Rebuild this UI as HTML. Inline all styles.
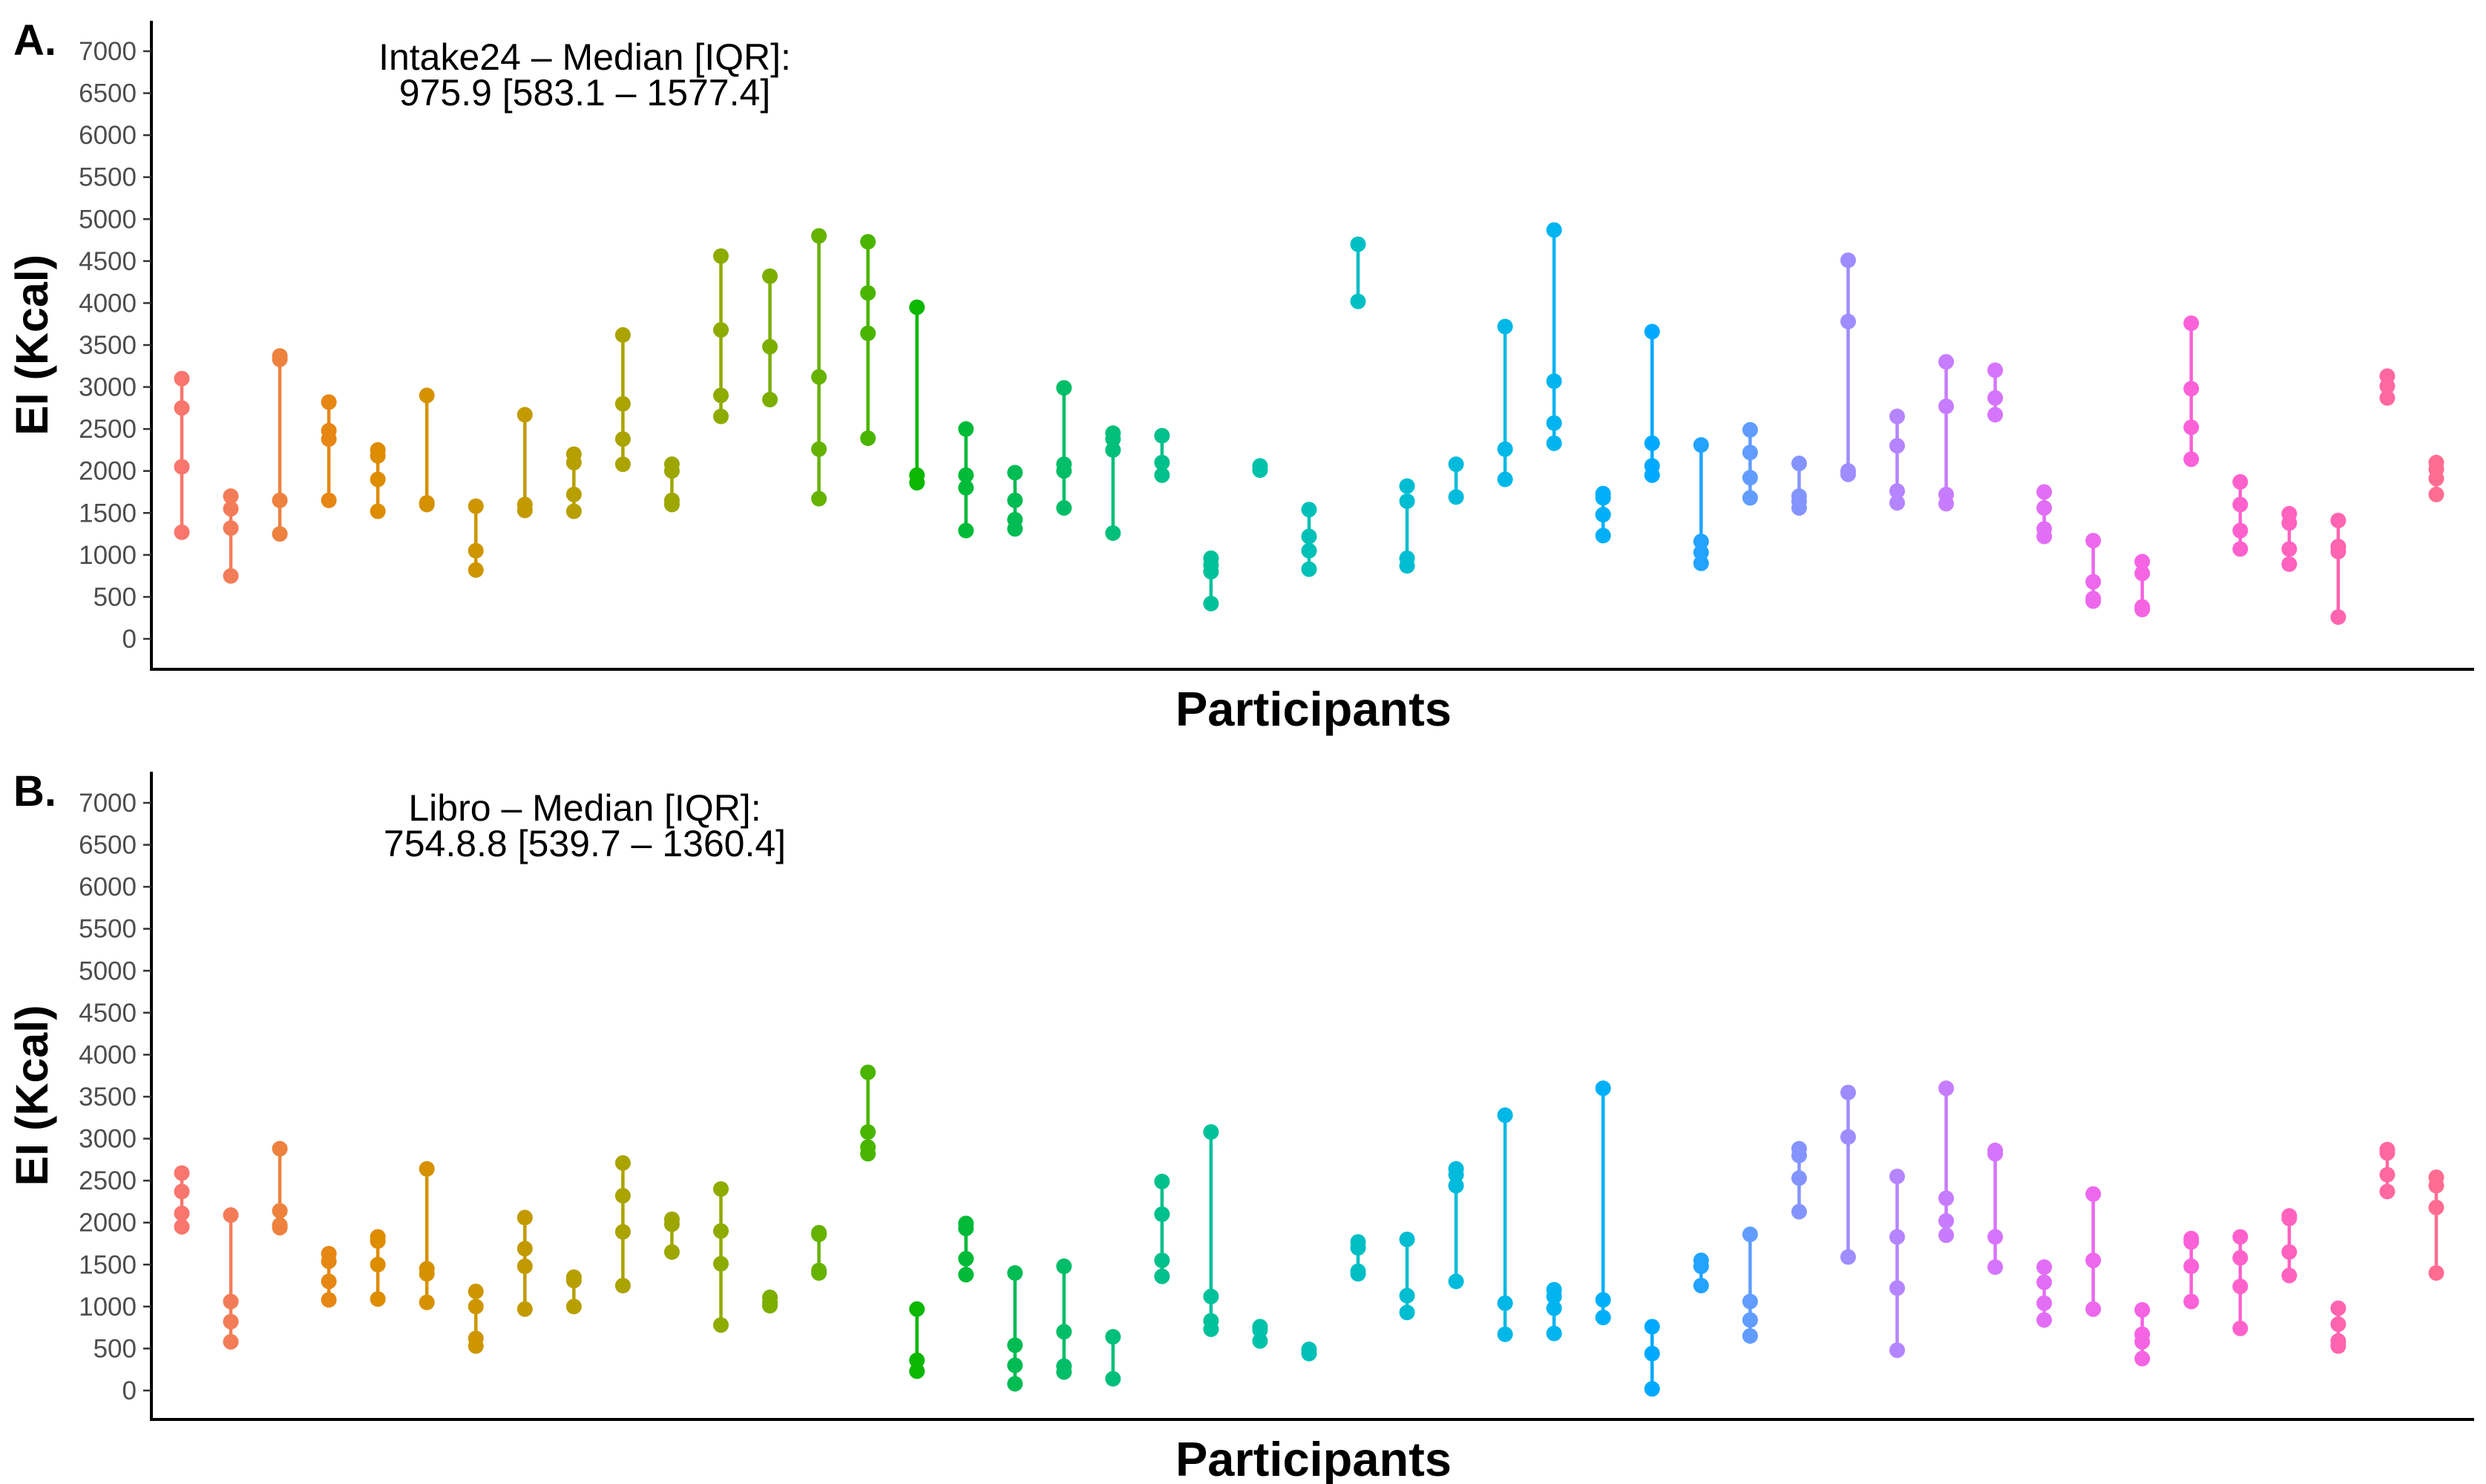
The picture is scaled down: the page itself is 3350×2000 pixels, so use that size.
<!DOCTYPE html>
<html><head><meta charset="utf-8">
<style>
html,body{margin:0;padding:0;background:#fff;}
svg{display:block;font-family:"Liberation Sans",Arial,sans-serif;}
</style></head>
<body>
<svg id="chart" width="3350" height="2000" viewBox="0 0 3350 2000" xmlns="http://www.w3.org/2000/svg">
<rect width="3350" height="2000" fill="#fff"/>
<g id="panelA"></g>
<g id="panelB"></g>
</svg>
<script>
const yTicks = [0,500,1000,1500,2000,2500,3000,3500,4000,4500,5000,5500,6000,6500,7000];
const participants = Array.from({length:47},(_,i)=>'P'+(i+1));
const intake24Values = [
[3100,2750,2050,1270],[1700,1550,1320,750],[3370,3330,1650,1250],[2820,2480,2380,1650],
[2250,2180,1900,1520],[2900,1620,1600],[1580,1050,820],[2670,1600,1530],
[2200,2100,1720,1520],[3620,2800,2380,2080],[2080,2000,1650,1600],[4560,3680,2900,2650],
[4320,3480,2850],[4800,3120,2260,1670],[4730,4120,3640,2390],[3950,1950,1860],
[2500,1950,1800,1290],[1980,1650,1420,1310],[2990,2080,2000,1560],[2450,2380,2250,1260],
[2420,2100,1950],[960,880,800,420],[2060,2010],[1540,1220,1050,830],
[4700,4020],[1820,1640,960,870],[2080,1690],[3720,2260,1900],
[4870,3070,2570,2330],[1730,1680,1480,1230],[3660,2330,2060,1950],[2310,1160,1030,900],
[2490,2220,1920,1680],[2090,1700,1640,1560],[4510,3780,2000,1960],[2650,2300,1760,1620],
[3300,2770,1720,1610],[3200,2870,2670],[1750,1560,1310,1220],[1170,680,480,450],
[920,780,380,350],[3760,2980,2520,2140],[1870,1600,1290,1070],[1490,1380,1070,890],
[1410,1100,1040,260],[3130,3010,2870],[2100,2020,1910,1720]];
const libroValues = [
[2590,2370,2110,1950],[2090,1060,820,580],[2880,2140,1970,1940],[1630,1540,1300,1080],
[1830,1780,1500,1090],[2640,1450,1390,1050],[1180,1000,620,530],[2060,1690,1480,970],
[1350,1310,1000],[2710,2320,1890,1250],[2040,1980,1650],[2400,1900,1510,780],
[1110,1050,1010],[1880,1860,1430,1400],[3790,3080,2900,2820],[970,360,230],
[1990,1930,1570,1380],[1400,540,300,80],[1480,700,290,220],[640,140],
[2490,2100,1550,1360],[3080,1120,830,730],[760,720,590],[490,440],
[1770,1700,1420,1390],[1800,1130,930],[2640,2570,2440,1300],[3280,1040,670],
[1200,1120,980,680],[3600,1080,870],[760,440,20],[1550,1480,1250],
[1860,1060,840,650],[2880,2800,2530,2130],[3550,3020,1590],[2550,1830,1220,480],
[3600,2290,2020,1850],[2860,2820,1830,1470],[1470,1290,1040,840],[2340,1550,970],
[960,670,580,380],[1810,1770,1480,1060],[1830,1580,1240,740],[2080,2050,1650,1370],
[980,790,590,530],[2870,2830,2570,2370],[2540,2440,2180,1400]];

function hcl(h,c,l){
  const Xn=95.047,Yn=100,Zn=108.883;
  const un=4*Xn/(Xn+15*Yn+3*Zn), vn=9*Yn/(Xn+15*Yn+3*Zn);
  const hr=h*Math.PI/180, u=c*Math.cos(hr), v=c*Math.sin(hr);
  const Y=Yn*Math.pow((l+16)/116,3);
  const up=u/(13*l)+un, vp=v/(13*l)+vn;
  const X=Y*9*up/(4*vp), Z=Y*(12-3*up-20*vp)/(4*vp);
  const x=X/100,y=Y/100,z=Z/100;
  let r=3.2406*x-1.5372*y-0.4986*z, g=-0.9689*x+1.8758*y+0.0415*z, b=0.0557*x-0.2040*y+1.0570*z;
  const gm=t=>{t=t<=0.0031308?12.92*t:1.055*Math.pow(t,1/2.4)-0.055;return Math.round(Math.max(0,Math.min(1,t))*255);};
  return `rgb(${gm(r)},${gm(g)},${gm(b)})`;
}
const NS='http://www.w3.org/2000/svg';
function mk(parent,tag,attrs,text){const e=document.createElementNS(NS,tag);for(const k in attrs)e.setAttribute(k,attrs[k]);if(text!==undefined)e.textContent=text;parent.appendChild(e);return e;}

function drawPanel(g,values,cfg){
  const y0=cfg.y0, y7=cfg.y7;
  const yScale=v=>y0+(y7-y0)*v/7000;
  const xScale=i=>245+i*(3283-245)/(participants.length-1);
  const ax=mk(g,'line',{x1:204,y1:cfg.top,x2:204,y2:cfg.axisY,stroke:'#000','stroke-width':4});
  
  
  const bx=mk(g,'line',{x1:202,y1:cfg.axisY,x2:3334,y2:cfg.axisY,stroke:'#000','stroke-width':4});
  
  
  yTicks.forEach(t=>{
    const y=yScale(t);
    const tk=mk(g,'line',{x1:193,y1:y,x2:204,y2:y,stroke:'#333','stroke-width':2.5});
    
    
    const lb=mk(g,'text',{x:184,y:y+12,'text-anchor':'end','font-size':35,fill:'#4d4d4d'},String(t));
    
    
  });
  values.forEach((vals,i)=>{
    const x=xScale(i), col=hcl(15+i*360/48,100,65);
    const grp=mk(g,'g',{});
    
    
    const mx=Math.max(...vals), mn=Math.min(...vals);
    mk(grp,'line',{x1:x,y1:yScale(mx),x2:x,y2:yScale(mn),stroke:col,'stroke-width':4.5});
    vals.forEach(v=>{
      const c=mk(grp,'circle',{cx:x,cy:yScale(v),r:10.5,fill:col});
      
      
    });
  });
  const yt=mk(g,'text',{x:0,y:0,transform:`translate(64,${(cfg.top+cfg.axisY)/2}) rotate(-90)`,'text-anchor':'middle','font-size':61,'font-weight':'bold',fill:'#000'},'EI (Kcal)');
  
  
  const xt=mk(g,'text',{x:1770,y:cfg.axisY+76,'text-anchor':'middle','font-size':65,'font-weight':'bold',fill:'#000'},'Participants');
  
  
  const pl=mk(g,'text',{x:18,y:cfg.top+46,'font-size':58,'font-weight':'bold',fill:'#000'},cfg.label);
  
  
  const a1=mk(g,'text',{x:788,y:cfg.top+66,'text-anchor':'middle','font-size':50,fill:'#000'},cfg.line1);
  
  
  const a2=mk(g,'text',{x:788,y:cfg.top+114,'text-anchor':'middle','font-size':50,fill:'#000'},cfg.line2);
  
  
}
drawPanel(document.getElementById('panelA'),intake24Values,{y0:861,y7:69,top:28,axisY:902,label:'A.',line1:'Intake24 \u2013 Median [IQR]:',line2:'975.9 [583.1 \u2013 1577.4]'});
drawPanel(document.getElementById('panelB'),libroValues,{y0:1874,y7:1082,top:1040,axisY:1913,label:'B.',line1:'Libro \u2013 Median [IQR]:',line2:'754.8.8 [539.7 \u2013 1360.4]'});
</script>
</body></html>
